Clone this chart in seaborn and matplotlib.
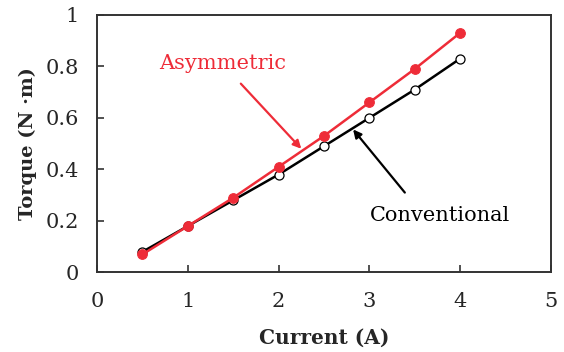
import matplotlib
matplotlib.use("Agg")
import matplotlib.pyplot as plt
import seaborn as sns
import pandas as pd

current = [0.5, 1.0, 1.5, 2.0, 2.5, 3.0, 3.5, 4.0]
torque_asymmetric = [0.07, 0.18, 0.29, 0.41, 0.53, 0.66, 0.79, 0.93]
torque_conventional = [0.08, 0.18, 0.28, 0.38, 0.49, 0.60, 0.71, 0.83]
x_ticks = [0, 1, 2, 3, 4, 5]
y_ticks = [0, 0.2, 0.4, 0.6, 0.8, 1.0]
y_tick_labels = ["0", "0.2", "0.4", "0.6", "0.8", "1"]

RED = "#EE2C38"

sns.set_style("white")
plt.rcParams["font.family"] = ["DejaVu Serif"]

df_conv = pd.DataFrame({"Current": current, "Torque": torque_conventional})
df_asym = pd.DataFrame({"Current": current, "Torque": torque_asymmetric})

fig = plt.figure(figsize=(5.64, 3.52), dpi=100)
ax = fig.add_axes([0.172, 0.226, 0.805, 0.732])

sns.lineplot(data=df_conv, x="Current", y="Torque", ax=ax, color="black",
             linewidth=1.8, marker="o", markersize=6.5, markerfacecolor="white",
             markeredgecolor="black", markeredgewidth=0.9, zorder=3)
sns.lineplot(data=df_asym, x="Current", y="Torque", ax=ax, color=RED,
             linewidth=1.8, marker="o", markersize=7, markerfacecolor=RED,
             markeredgecolor=RED, zorder=4)

ax.set_xlim(0, 5)
ax.set_ylim(0, 1)
ax.set_xticks(x_ticks)
ax.set_xticklabels([str(t) for t in x_ticks])
ax.set_yticks(y_ticks)
ax.set_yticklabels(y_tick_labels)
ax.tick_params(axis="both", direction="in", length=5, width=1.2, color="#333333",
               labelsize=15, bottom=True, left=True, top=False, right=False)
ax.tick_params(axis="x", pad=14)
ax.tick_params(axis="y", pad=13)
for s in ax.spines.values():
    s.set_color("#333333")
    s.set_linewidth(1.4)

ax.set_xlabel("Current (A)", fontsize=14.5, fontweight="bold", labelpad=12)
ax.set_ylabel("Torque (N ·m)", fontsize=14, fontweight="bold", labelpad=6)

ax.annotate("Asymmetric", xy=(2.25, 0.48), xytext=(1.38, 0.81),
            color=RED, fontsize=15, ha="center", va="center",
            arrowprops=dict(arrowstyle="-|>", color=RED, lw=1.6,
                            shrinkA=7, shrinkB=0, mutation_scale=12))
ax.annotate("", xy=(2.82, 0.555), xytext=(3.39, 0.31),
            arrowprops=dict(arrowstyle="-|>", color="black", lw=1.6,
                            shrinkA=0, shrinkB=0, mutation_scale=12))
ax.text(3.78, 0.22, "Conventional", color="black", fontsize=15,
        ha="center", va="center")

fig.savefig("out.png", dpi=100)
